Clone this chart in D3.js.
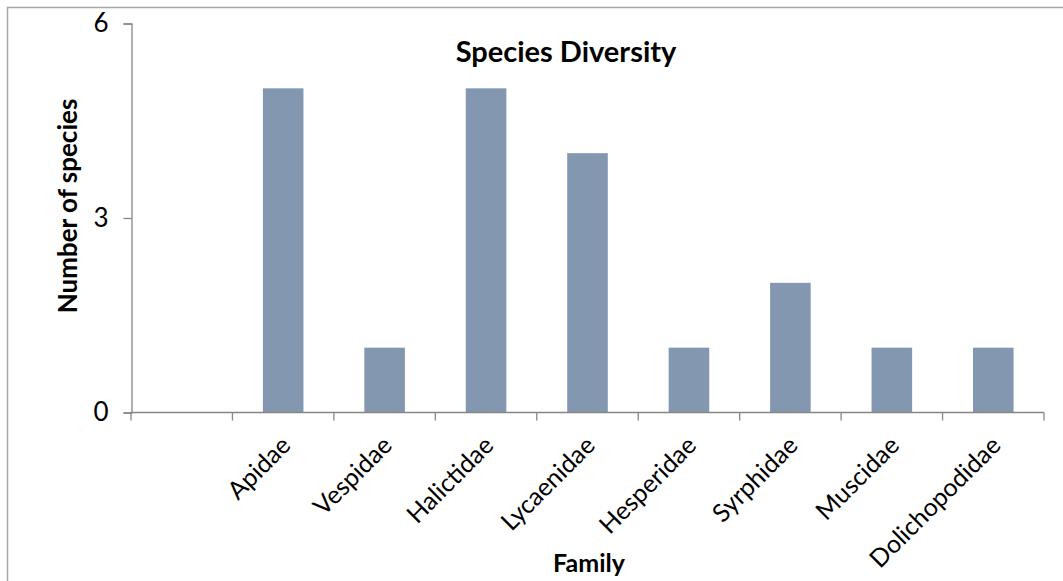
<!DOCTYPE html>
<html><head><meta charset="utf-8">
<script src="https://cdn.jsdelivr.net/npm/d3@7"></script>
<style>body{margin:0;background:#fff}svg{display:block}text{font-family:Lato,"Open Sans",sans-serif}</style>
</head><body>
<script>
const categories = ["", "Apidae", "Vespidae", "Halictidae", "Lycaenidae", "Hesperidae", "Syrphidae", "Muscidae", "Dolichopodidae"];
const values = [null, 5, 1, 5, 4, 1, 2, 1, 1];
const yTicks = [0, 3, 6];
const title = "Species Diversity";
const xTitle = "Family";
const yTitle = "Number of species";

const W = 1063, H = 581;
const svg = d3.select("body").append("svg").attr("width", W).attr("height", H);

// frame
svg.append("path").attr("d", `M7.5,${H} V7.5 H${W}`).attr("fill", "none").attr("stroke", "#a6a6a6").attr("stroke-width", 1.5);

const x = d3.scaleBand().domain(categories.map((c,i)=>i)).range([131, 1044]).paddingInner(0.6).paddingOuter(0.3);
const y = d3.scaleLinear().domain([0, 6]).range([412.5, 23.5]);
const axisColor = "#868686";

// bars
svg.append("g").selectAll("rect").data(values.map((v,i)=>({v,i})).filter(d=>d.v!=null))
  .join("rect")
  .attr("x", d => x(d.i)).attr("width", x.bandwidth())
  .attr("y", d => y(d.v)).attr("height", d => y(0) - y(d.v))
  .attr("fill", "#8497b0");

// y axis
const yAxis = svg.append("g").attr("transform", "translate(131.5,0)")
  .call(d3.axisLeft(y).tickValues(yTicks).tickSize(8).tickPadding(15).tickFormat(d3.format("d")));
yAxis.select(".domain").attr("stroke", axisColor).attr("stroke-width", 1.3);
yAxis.selectAll(".tick line").attr("stroke", axisColor).attr("stroke-width", 1.3);
yAxis.selectAll(".tick text").attr("font-size", 26).attr("fill", "#000").attr("font-family", "Lato");

// x axis with ticks at slot boundaries
const step = x.step();
const bounds = d3.range(categories.length + 1).map(i => 131 + i * step);
const xg = svg.append("g");
xg.append("line").attr("x1", 131).attr("x2", 1044).attr("y1", y(0)).attr("y2", y(0)).attr("stroke", axisColor).attr("stroke-width", 1.3);
xg.selectAll("line.t").data(bounds).join("line").attr("class","t")
  .attr("x1", d=>d).attr("x2", d=>d).attr("y1", y(0)).attr("y2", y(0)+8).attr("stroke", axisColor).attr("stroke-width", 1.3);

// category labels
svg.append("g").selectAll("text").data(categories.map((c,i)=>({c,i})).filter(d=>d.c))
  .join("text")
  .attr("transform", d => `translate(${x(d.i) + x.bandwidth()/2 + 9},${447}) rotate(-45)`)
  .attr("text-anchor", "end")
  .attr("font-size", 25)
  .text(d => d.c);

// titles
svg.append("text").attr("x", 566).attr("y", 62).attr("text-anchor", "middle")
  .attr("font-size", 29).attr("font-weight", "bold").text(title);
svg.append("text").attr("x", 589).attr("y", 572).attr("text-anchor", "middle")
  .attr("font-size", 25).attr("font-weight", "bold").text(xTitle);
svg.append("text").attr("transform", "translate(77,206) rotate(-90)").attr("text-anchor", "middle")
  .attr("font-size", 26).attr("font-weight", "bold").text(yTitle);
</script>
</body></html>
